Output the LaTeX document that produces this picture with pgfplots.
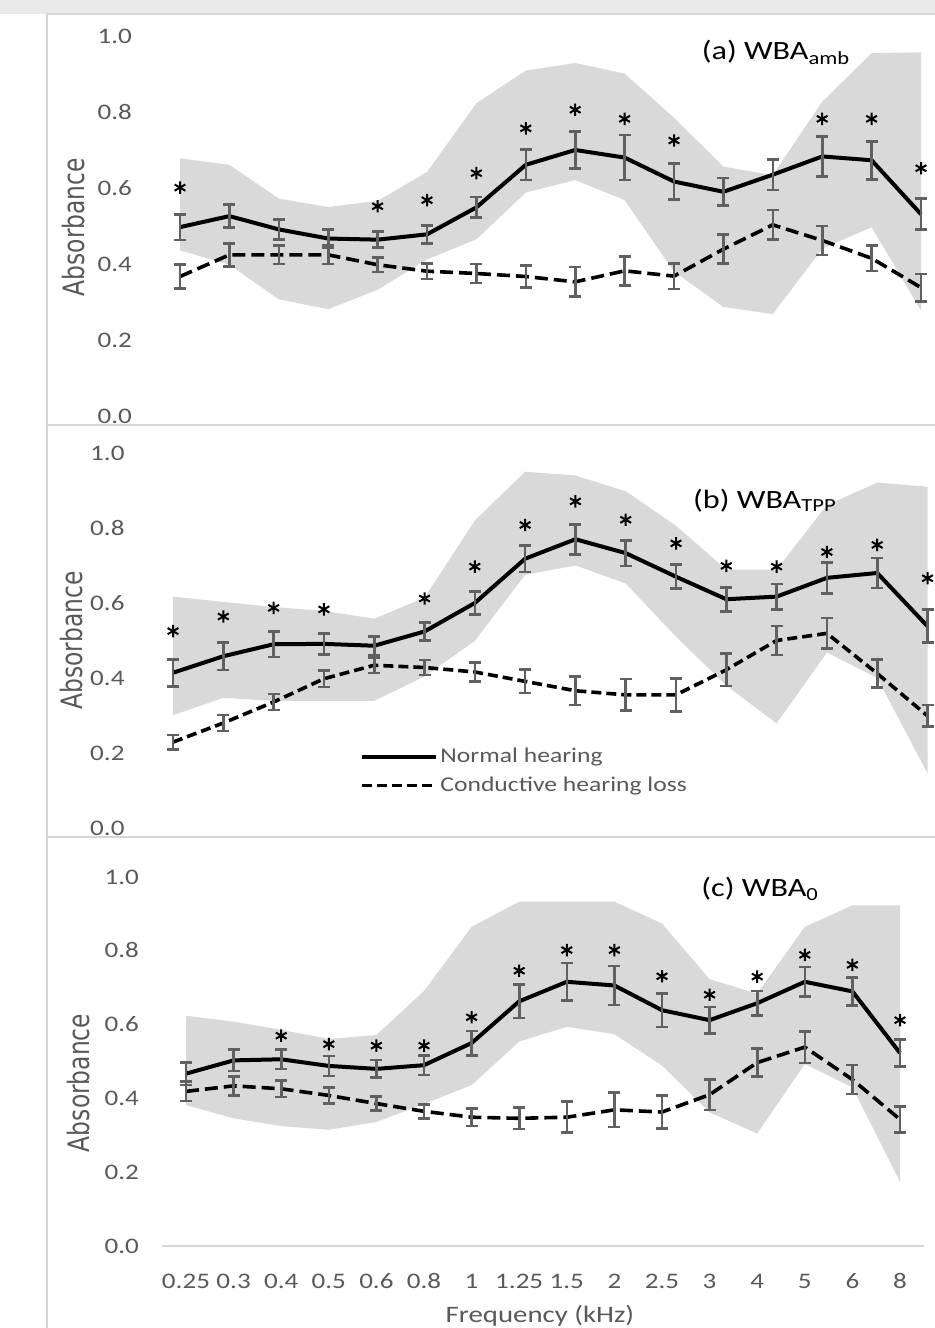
\documentclass[border=0pt]{standalone}
\usepackage{fontspec}
\setmainfont{Carlito}[FakeStretch=1.22]
\newfontfamily\ylabfont{DejaVu Sans}
\usepackage{graphicx}
\usepackage{pgfplots}
\usepackage{pgfplotstable}
\usepgfplotslibrary{fillbetween}
\pgfplotsset{compat=1.18}
\definecolor{bandgray}{HTML}{D9D9D9}
\definecolor{txtgray}{HTML}{595959}
\definecolor{errgray}{HTML}{606060}
\definecolor{framegray}{HTML}{D6D6D6}
\definecolor{topband}{HTML}{EAEAEA}

\pgfplotstableread{
i nh nhe chl chle up lo star
0 0.497 0.034 0.367 0.031 0.678 0.436 0.601
1 0.526 0.030 0.424 0.030 0.661 0.398 nan
2 0.491 0.026 0.424 0.024 0.572 0.307 nan
3 0.467 0.024 0.424 0.024 0.550 0.281 nan
4 0.464 0.021 0.398 0.019 0.566 0.332 0.552
5 0.478 0.024 0.381 0.020 0.642 0.412 0.568
6 0.549 0.027 0.375 0.025 0.823 0.465 0.639
7 0.661 0.040 0.367 0.029 0.909 0.588 0.757
8 0.700 0.049 0.353 0.039 0.929 0.621 0.806
9 0.680 0.059 0.382 0.038 0.901 0.568 0.782
10 0.617 0.047 0.368 0.034 0.785 0.380 0.725
11 0.590 0.036 0.439 0.038 0.656 0.287 nan
12 0.635 0.040 0.503 0.039 0.634 0.268 nan
13 0.683 0.052 0.462 0.038 0.827 0.440 0.782
14 0.673 0.050 0.415 0.033 0.955 0.497 0.782
15 0.531 0.041 0.338 0.036 0.957 0.277 0.652
}\tabA

\pgfplotstableread{
i nh nhe chl chle up lo star
0 0.414 0.036 0.229 0.019 0.617 0.301 0.525
1 0.458 0.037 0.280 0.021 0.603 0.347 0.564
2 0.490 0.034 0.336 0.021 0.589 0.339 0.587
3 0.491 0.028 0.398 0.022 0.579 0.339 0.583
4 0.486 0.025 0.434 0.021 0.558 0.339 nan
5 0.524 0.024 0.428 0.020 0.614 0.404 0.612
6 0.600 0.030 0.416 0.025 0.820 0.499 0.697
7 0.718 0.035 0.391 0.031 0.950 0.675 0.808
8 0.770 0.040 0.366 0.038 0.940 0.700 0.871
9 0.733 0.034 0.355 0.042 0.898 0.652 0.822
10 0.670 0.032 0.355 0.044 0.806 0.510 0.759
11 0.610 0.032 0.422 0.043 0.689 0.380 0.699
12 0.617 0.034 0.500 0.039 0.689 0.279 0.697
13 0.667 0.041 0.519 0.041 0.861 0.468 0.736
14 0.680 0.040 0.412 0.037 0.921 0.400 0.755
15 0.538 0.044 0.299 0.029 0.910 0.146 0.666
}\tabB

\pgfplotstableread{
i nh nhe chl chle up lo star
0 0.467 0.031 0.419 0.026 0.624 0.382 nan
1 0.503 0.029 0.434 0.026 0.608 0.346 nan
2 0.506 0.026 0.426 0.022 0.586 0.325 0.570
3 0.488 0.027 0.408 0.022 0.561 0.315 0.547
4 0.480 0.024 0.386 0.019 0.572 0.336 0.543
5 0.490 0.027 0.365 0.019 0.691 0.385 0.543
6 0.550 0.033 0.349 0.024 0.865 0.436 0.620
7 0.663 0.045 0.346 0.029 0.933 0.554 0.746
8 0.716 0.051 0.349 0.042 0.933 0.594 0.802
9 0.706 0.053 0.369 0.047 0.933 0.574 0.802
10 0.639 0.045 0.363 0.045 0.874 0.489 0.731
11 0.612 0.036 0.410 0.041 0.723 0.362 0.681
12 0.658 0.033 0.497 0.038 0.684 0.305 0.730
13 0.716 0.040 0.539 0.043 0.865 0.493 0.789
14 0.690 0.038 0.451 0.039 0.923 0.430 0.762
15 0.523 0.036 0.343 0.035 0.923 0.174 0.612
}\tabC

\pgfplotsset{
  panel/.style={
    clip=false,
    xmin=-0.5, xmax=15.5, ymin=0, ymax=1,
    axis x line=bottom, axis y line=left,
    x axis line style={-}, y axis line style={draw=none},
    ytick={0,0.2,0.4,0.6,0.8,1},
    ytick style={draw=none},
    yticklabel style={font=\fontsize{11.1}{13}\selectfont, text=txtgray, xshift=-6pt,
      text height=7.2pt, text depth=0pt,
      /pgf/number format/.cd, fixed, fixed zerofill, precision=1, assume math mode=true},
    ylabel={\ylabfont\scalebox{1}[1.26]{Absorbance}},
    ylabel style={font=\fontsize{11.7}{13}\selectfont, text=txtgray, anchor=base},
  },
  errb/.style={error bars/.cd, y dir=both, y explicit,
    error bar style={solid, line width=1.3pt, errgray},
    error mark options={solid, rotate=90, line width=1.3pt, errgray, mark size=3pt}},
  nhline/.style={black, line width=2pt, line join=round},
  chlline/.style={black, line width=1.8pt, dash pattern=on 6.5pt off 3pt},
  stars/.style={only marks, mark=asterisk, mark size=3.1pt, black, line width=1pt, forget plot},
}
\tikzset{ttl/.style={anchor=base west, font=\fontsize{13.2}{15}\selectfont}}

\begin{document}
\begin{tikzpicture}
\fill[topband] (0pt,657pt) rectangle (467.5pt,664pt);
\draw[framegray, line width=1pt] (23.25pt,0pt) -- (23.25pt,657pt) -- (467.5pt,657pt);
\draw[framegray, line width=1pt] (23.25pt,451.5pt) -- (467.5pt,451.5pt);
\draw[framegray, line width=1pt] (23.25pt,245.5pt) -- (467.5pt,245.5pt);

% ---------------- panel (a)
\begin{axis}[panel, at={(77.65pt,456pt)}, anchor=south west,
  x=24.7pt, y=190pt, xtick=\empty, x axis line style={draw=none},
  ylabel style={at={(axis description cs:-0.0902,0.497)}}]
\addplot[name path=upA, draw=none, forget plot] table[x=i, y=up]{\tabA};
\addplot[name path=loA, draw=none, forget plot] table[x=i, y=lo]{\tabA};
\addplot[bandgray, draw=none, forget plot] fill between[of=upA and loA];
\addplot[nhline, errb] table[x=i, y=nh, y error=nhe]{\tabA};
\addplot[chlline, errb] table[x=i, y=chl, y error=chle]{\tabA};
\addplot[stars] table[x=i, y=star]{\tabA};
\node[ttl] at (axis cs:10.42,0.937) {(a) WBA\textsubscript{amb}};
\end{axis}

% ---------------- panel (b)
\begin{axis}[panel, at={(73.93pt,250pt)}, anchor=south west,
  x=25.15pt, y=187.5pt, xtick=\empty, x axis line style={draw=none},
  ylabel style={at={(axis description cs:-0.0806,0.5)}},
  legend style={at={(rel axis cs:0.2636,0.222)}, anchor=north west, draw=none, fill=none,
    inner sep=0pt, row sep=3pt, font=\fontsize{10.5}{12}\selectfont, text=txtgray,
    nodes={inner sep=1pt, text height=7.5pt, text depth=2pt}},
  legend cell align=left,
  legend image code/.code={\draw[#1] (0pt,0pt) -- (37pt,0pt);}]
\addplot[name path=upB, draw=none, forget plot] table[x=i, y=up]{\tabB};
\addplot[name path=loB, draw=none, forget plot] table[x=i, y=lo]{\tabB};
\addplot[bandgray, draw=none, forget plot] fill between[of=upB and loB];
\addplot[nhline, errb] table[x=i, y=nh, y error=nhe]{\tabB};
\addlegendentry{Normal hearing}
\addplot[chlline, dash pattern=on 5pt off 2.5pt, errb] table[x=i, y=chl, y error=chle]{\tabB};
\addlegendentry{Conductive hearing loss}
\addplot[stars] table[x=i, y=star]{\tabB};
\node[ttl] at (axis cs:10.2,0.853) {(b) WBA\textsubscript{TPP}};
\end{axis}

% ---------------- panel (c)
\begin{axis}[panel, at={(81.1pt,41pt)}, anchor=south west,
  x=23.8pt, y=184.5pt,
  x axis line style={draw=framegray, line width=1pt},
  xtick={0,1,...,15},
  xticklabels={0.25,0.3,0.4,0.5,0.6,0.8,1,1.25,1.5,2,2.5,3,4,5,6,8},
  xtick style={draw=none},
  xticklabel style={font=\fontsize{11.1}{13}\selectfont, text=txtgray, yshift=-8.5pt,
    text height=7.2pt, text depth=0pt},
  extra x ticks={-0.5,0.5,...,15.5},
  extra x tick labels={},
  extra x tick style={tick align=outside, major tick length=4pt,
    tick style={draw=framegray, line width=1pt}},
  xlabel={Frequency (kHz)},
  xlabel style={at={(axis description cs:0.496,-0.206)}, anchor=base,
    font=\fontsize{11.8}{13}\selectfont, text=txtgray},
  ylabel style={at={(axis description cs:-0.0961,0.442)}}]
\addplot[name path=upC, draw=none, forget plot] table[x=i, y=up]{\tabC};
\addplot[name path=loC, draw=none, forget plot] table[x=i, y=lo]{\tabC};
\addplot[bandgray, draw=none, forget plot] fill between[of=upC and loC];
\addplot[nhline, errb] table[x=i, y=nh, y error=nhe]{\tabC};
\addplot[chlline, errb] table[x=i, y=chl, y error=chle]{\tabC};
\addplot[stars] table[x=i, y=star]{\tabC};
\node[ttl] at (axis cs:10.68,0.946) {(c) WBA\textsubscript{0}};
\end{axis}
\pgfresetboundingbox
\path[use as bounding box] (0pt,0pt) rectangle (467.5pt,664pt);
\end{tikzpicture}
\end{document}
